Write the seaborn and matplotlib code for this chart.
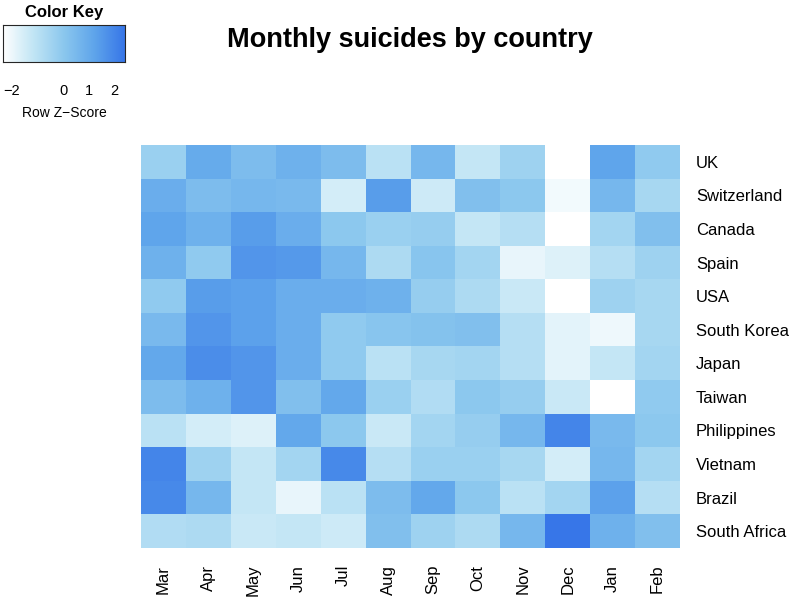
import numpy as np
import pandas as pd
import matplotlib
matplotlib.use("Agg")
import matplotlib.pyplot as plt
import seaborn as sns
from matplotlib.colors import LinearSegmentedColormap

# months (columns) and countries (rows), values = row z-scores
months = ["Mar", "Apr", "May", "Jun", "Jul", "Aug", "Sep", "Oct", "Nov", "Dec", "Jan", "Feb"]
countries = ["UK", "Switzerland", "Canada", "Spain", "USA", "South Korea",
             "Japan", "Taiwan", "Philippines", "Vietnam", "Brazil", "South Africa"]

uk = [-0.3, 1.0, 0.4, 0.8, 0.4, -1.0, 0.6, -1.2, -0.4, -2.35, 1.2, -0.1]
switzerland = [0.9, 0.4, 0.6, 0.5, -1.5, 1.4, -1.4, 0.3, 0.0, -2.1, 0.6, -0.6]
canada = [1.2, 0.8, 1.4, 0.9, 0.0, -0.3, -0.2, -1.2, -0.9, -2.35, -0.5, 0.3]
spain = [0.8, -0.1, 1.6, 1.5, 0.6, -0.7, 0.1, -0.5, -1.9, -1.7, -0.9, -0.4]
usa = [-0.1, 1.4, 1.3, 0.9, 0.9, 0.8, -0.2, -0.7, -1.3, -2.35, -0.4, -0.6]
south_korea = [0.5, 1.6, 1.3, 0.9, -0.1, 0.1, 0.2, 0.3, -0.9, -1.8, -2.0, -0.6]
japan = [1.1, 1.8, 1.6, 0.9, -0.1, -1.0, -0.6, -0.5, -0.9, -1.8, -1.2, -0.5]
taiwan = [0.4, 0.8, 1.6, 0.3, 1.1, -0.3, -0.8, 0.0, -0.2, -1.3, -2.35, -0.1]
philippines = [-1.0, -1.5, -1.7, 1.1, 0.0, -1.3, -0.5, -0.2, 0.6, 2.0, 0.5, 0.0]
vietnam = [2.0, -0.4, -1.2, -0.5, 1.9, -0.9, -0.3, -0.3, -0.6, -1.5, 0.6, -0.5]
brazil = [1.9, 0.6, -1.2, -1.9, -1.0, 0.4, 1.1, 0.0, -1.0, -0.5, 1.3, -0.9]
south_africa = [-0.8, -0.7, -1.3, -1.2, -1.4, 0.3, -0.4, -0.7, 0.6, 2.4, 0.8, 0.3]

df = pd.DataFrame([uk, switzerland, canada, spain, usa, south_korea, japan,
                   taiwan, philippines, vietnam, brazil, south_africa],
                  index=countries, columns=months)

vmin, vmax = -2.35, 2.4
# colour stops placed at given z values
stops = [(-2.35, "#ffffff"), (-1.2, "#c3e6f5"), (0.0, "#8cc8ee"),
         (1.2, "#5fa5eb"), (2.4, "#3776e8")]
cmap = LinearSegmentedColormap.from_list(
    "wb", [((z - vmin) / (vmax - vmin), c) for z, c in stops])

sns.set_style("white")
plt.rcParams['font.family'] = ['Liberation Sans', 'DejaVu Sans']
plt.rcParams['text.color'] = 'black'
plt.rcParams['xtick.color'] = 'black'
plt.rcParams['ytick.color'] = 'black'
plt.rcParams['axes.labelcolor'] = 'black'

fig = plt.figure(figsize=(7.93, 5.98), dpi=100)

# main heatmap
ax = fig.add_axes([141 / 793, 1 - 548 / 598, 539 / 793, 403 / 598])
sns.heatmap(df, ax=ax, cmap=cmap, vmin=vmin, vmax=vmax, cbar=False)
ax.yaxis.tick_right()
ax.set_yticklabels(countries, rotation=0, fontsize=12)
ax.set_xticklabels(months, rotation=90, fontsize=12)
ax.tick_params(axis="x", length=0, pad=12)
ax.tick_params(axis="y", length=0, pad=11.5)
ax.set_xlabel("")
ax.set_ylabel("")

fig.text(410 / 793, 1 - 40 / 598, "Monthly suicides by country",
         ha="center", va="center", fontsize=19.5, fontweight="bold")

# color key
kax = fig.add_axes([3 / 793, 1 - 62 / 598, 122 / 793, 37 / 598])
grad = np.linspace(vmin, vmax, 256).reshape(1, -1)
kax.imshow(grad, aspect="auto", cmap=cmap, vmin=vmin, vmax=vmax,
           extent=[vmin, vmax, 0, 1])
kax.set_yticks([])
kax.set_xticks([-2, -1, 0, 1, 2])
kax.set_xticklabels(["\u22122", "", "0", "1", "2"], fontsize=10.5)
kax.tick_params(axis="x", length=7, width=1, pad=8.5)
kax.set_xlabel("Row Z\u2212Score", fontsize=10, labelpad=6)
kax.set_title("Color Key", fontsize=12, fontweight="bold", pad=6)
for s in kax.spines.values():
    s.set_linewidth(0.8)

fig.savefig("out.png", dpi=100)
